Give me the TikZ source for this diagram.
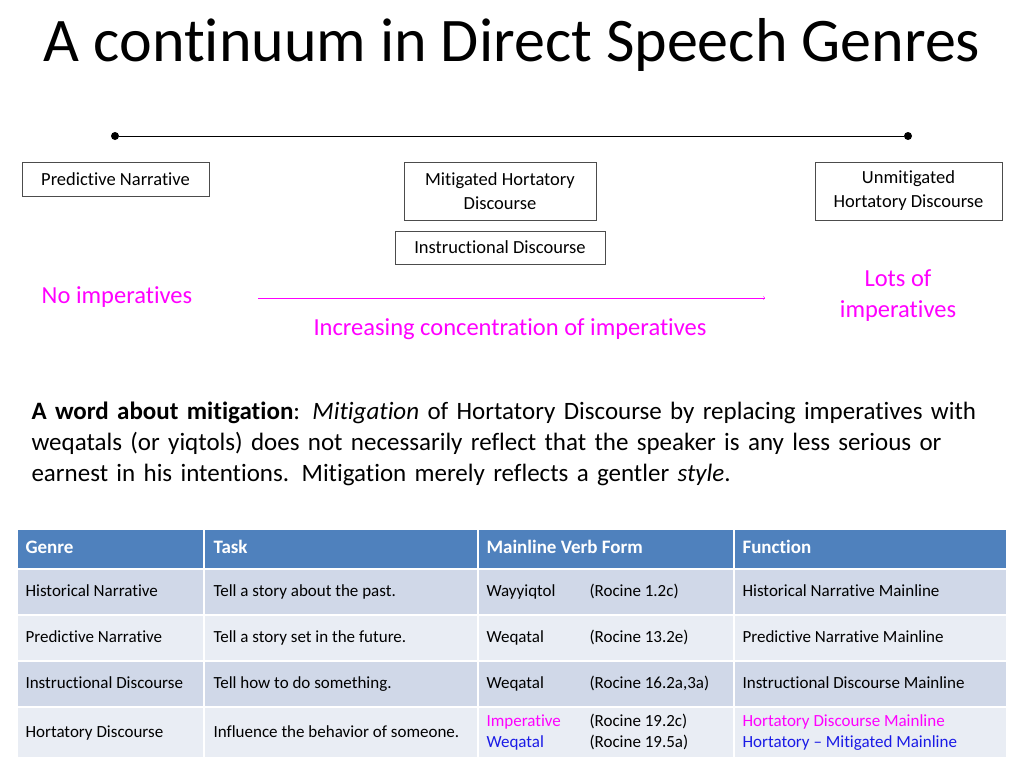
\documentclass[tikz,border=0pt]{standalone}
\usepackage{fontspec}
\setmainfont{Carlito}[Ligatures=NoCommon]
\usetikzlibrary{positioning}
\definecolor{hdrblue}{HTML}{4F81BD}
\definecolor{rowdark}{HTML}{D0D8E8}
\definecolor{rowlight}{HTML}{E9EDF4}
\definecolor{pinky}{HTML}{FF00FF}
\definecolor{bluey}{HTML}{1A1AE6}
\begin{document}
\begin{tikzpicture}[
	x=1pt, y=-1pt,
	genrebox/.style={draw=black!70, align=center, font=\fontsize{18.5}{24}\selectfont, inner xsep=10pt, inner ysep=5pt},
	pinktext/.style={text=pinky, font=\fontsize{24.5}{31}\selectfont, align=center},
	cell/.style={draw=white, line width=2pt},
	celltext/.style={anchor=west, font=\fontsize{17}{20}\selectfont, text height=11pt, text depth=3pt},
	hdrtext/.style={anchor=west, text=white, font=\bfseries\fontsize{19}{20}\selectfont, text height=12pt, text depth=3pt},
]
\useasboundingbox (0,0) rectangle (1024,768);
\node[font=\fontsize{62}{66}\selectfont] (title) at (512,45) {A continuum in Direct Speech Genres};

% the continuum line
\node[circle, fill=black, inner sep=0pt, minimum size=8pt] (left) at (115,136) {};
\node[circle, fill=black, inner sep=0pt, minimum size=8pt] (right) at (908,136) {};
\draw[line width=1pt] (left) -- (right);

\node[genrebox, minimum width=187pt, minimum height=34pt] (pred) at (115.5,179) {Predictive Narrative};
\node[genrebox, minimum width=192pt, minimum height=58pt] (mitig) at (500,191) {Mitigated Hortatory\\Discourse};
\node[genrebox, minimum width=187pt, minimum height=58pt] (unmit) at (908.5,191) {Unmitigated\\Hortatory Discourse};
\node[genrebox, minimum width=210pt, minimum height=33pt] (instr) at (500,247.5) {Instructional Discourse};

\node[pinktext] (noimp) at (117,297) {No imperatives};
\node[pinktext] (lots) at (898,296) {Lots of\\imperatives};
\node[pinktext] (incr) at (510,329) {Increasing concentration of imperatives};
\coordinate (arrstart) at (258,298);
\coordinate (arrend) at (765,298);
\draw[pinky, ->] (arrstart) -- (arrend);

\node[anchor=north west, text width=980pt, align=left, font=\fontsize{25}{31}\selectfont] (word) at (28,398)
{\textbf{A word about mitigation}: \textit{Mitigation} of Hortatory Discourse by replacing imperatives with\\ weqatals (or yiqtols) does not necessarily reflect that the speaker is any less serious or\\ earnest in his intentions. Mitigation merely reflects a gentler \textit{style}.};

% table
\foreach \xa/\xb in {17/204,204/478,478/734,734/1007}{
	\path[cell, fill=hdrblue] (\xa,529) rectangle (\xb,569);
	\path[cell, fill=rowdark] (\xa,569) rectangle (\xb,615);
	\path[cell, fill=rowlight] (\xa,615) rectangle (\xb,661);
	\path[cell, fill=rowdark] (\xa,661) rectangle (\xb,707);
	\path[cell, fill=rowlight] (\xa,707) rectangle (\xb,758);
}
\node[hdrtext] (h1) at (22,549) {Genre};
\node[hdrtext] (h2) at (210,549) {Task};
\node[hdrtext] (h3) at (483,549) {Mainline Verb Form};
\node[hdrtext] (h4) at (739,549) {Function};

\node[celltext] (g1) at (22,592) {Historical Narrative};
\node[celltext] (t1) at (210,592) {Tell a story about the past.};
\node[celltext] (v1) at (483,592) {Wayyiqtol};
\node[celltext] (r1) at (586,592) {(Rocine 1.2c)};
\node[celltext] (f1) at (739,592) {Historical Narrative Mainline};

\node[celltext] (g2) at (22,638) {Predictive Narrative};
\node[celltext] (t2) at (210,638) {Tell a story set in the future.};
\node[celltext] (v2) at (483,638) {Weqatal};
\node[celltext] (r2) at (586,638) {(Rocine 13.2e)};
\node[celltext] (f2) at (739,638) {Predictive Narrative Mainline};

\node[celltext] (g3) at (22,684) {Instructional Discourse};
\node[celltext] (t3) at (210,684) {Tell how to do something.};
\node[celltext] (v3) at (483,684) {Weqatal};
\node[celltext] (r3) at (586,684) {(Rocine 16.2a,3a)};
\node[celltext] (f3) at (739,684) {Instructional Discourse Mainline};

\node[celltext] (g4) at (22,733) {Hortatory Discourse};
\node[celltext] (t4) at (210,733) {Influence the behavior of someone.};
\node[celltext, text=pinky] (v4a) at (483,722) {Imperative};
\node[celltext, text=bluey] (v4b) at (483,743) {Weqatal};
\node[celltext] (r4a) at (586,722) {(Rocine 19.2c)};
\node[celltext] (r4b) at (586,743) {(Rocine 19.5a)};
\node[celltext, text=pinky] (f4a) at (739,722) {Hortatory Discourse Mainline};
\node[celltext, text=bluey] (f4b) at (739,743) {Hortatory – Mitigated Mainline};
\end{tikzpicture}
\end{document}
